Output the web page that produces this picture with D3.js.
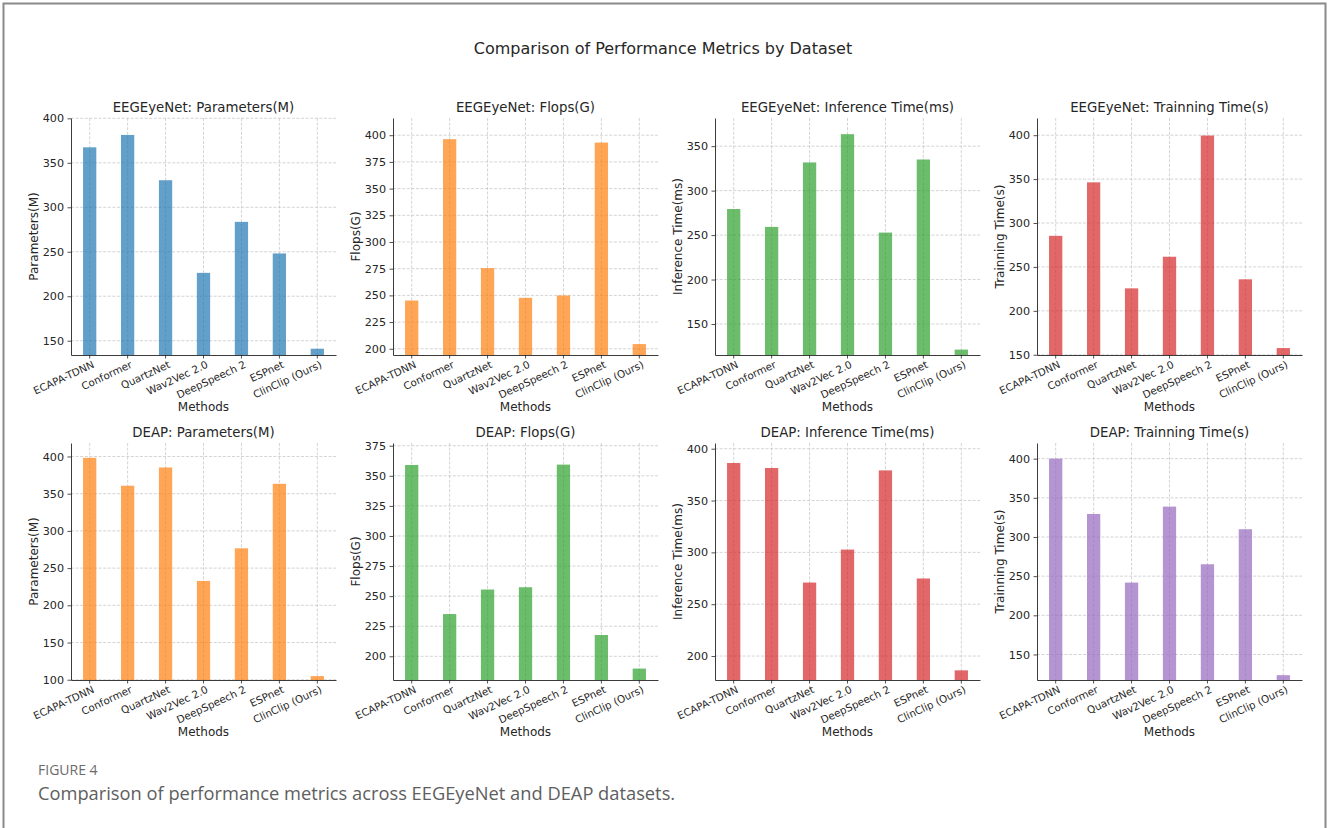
<!DOCTYPE html>
<html>
<head>
<meta charset="utf-8">
<script src="https://cdn.jsdelivr.net/npm/d3@7"></script>
<style>
  html, body { margin: 0; padding: 0; background: #fff; }
  svg { display: block; }
  .tick text { font-family: "DejaVu Sans", sans-serif; fill: #262626; }
  .tick line { stroke: #262626; stroke-width: 0.8; }
  .domain { stroke: #262626; stroke-width: 0.9; }
</style>
</head>
<body>
<svg id="chart" width="1328" height="828"></svg>
<script>
// Methods compared in every panel
const methods = ["ECAPA-TDNN", "Conformer", "QuartzNet", "Wav2Vec 2.0", "DeepSpeech 2", "ESPnet", "ClinClip (Ours)"];

// EEGEyeNet metrics
const eegParams    = [367.4, 381.3, 330.4, 226.3, 283.6, 248.1, 141.0];
const eegFlops     = [245.2, 396.3, 275.5, 247.7, 249.9, 393.1, 204.4];
const eegInference = [279.3, 259.2, 331.7, 363.5, 252.8, 335.0, 121.2];
const eegTraining  = [285.4, 346.3, 225.6, 261.6, 399.6, 235.9, 157.6];

// DEAP metrics
const deapParams    = [398.2, 360.7, 385.2, 232.8, 276.6, 363.3, 104.9];
const deapFlops     = [359.0, 235.1, 255.5, 257.4, 359.3, 217.7, 189.8];
const deapInference = [386.2, 381.4, 270.9, 302.7, 379.1, 274.8, 186.2];
const deapTraining  = [400.0, 329.4, 241.8, 338.8, 265.2, 309.9, 123.6];

// Y tick values per panel
const ticksParamsEEG    = [150, 200, 250, 300, 350, 400];
const ticksFlopsEEG     = [200, 225, 250, 275, 300, 325, 350, 375, 400];
const ticksInferenceEEG = [150, 200, 250, 300, 350];
const ticksTrainingEEG  = [150, 200, 250, 300, 350, 400];
const ticksParamsDEAP    = [100, 150, 200, 250, 300, 350, 400];
const ticksFlopsDEAP     = [200, 225, 250, 275, 300, 325, 350, 375];
const ticksInferenceDEAP = [200, 250, 300, 350, 400];
const ticksTrainingDEAP  = [150, 200, 250, 300, 350, 400];

// Panel titles and y-axis labels
const datasets = ["EEGEyeNet", "DEAP"];
const metricNames = ["Parameters(M)", "Flops(G)", "Inference Time(ms)", "Trainning Time(s)"];

const tab = {
  blue: "#1f77b4", orange: "#ff7f0e", green: "#2ca02c", red: "#d62728", purple: "#9467bd"
};

const panels = [
  { ds: 0, m: 0, values: eegParams,    ticks: ticksParamsEEG,    color: tab.blue },
  { ds: 0, m: 1, values: eegFlops,     ticks: ticksFlopsEEG,     color: tab.orange },
  { ds: 0, m: 2, values: eegInference, ticks: ticksInferenceEEG, color: tab.green },
  { ds: 0, m: 3, values: eegTraining,  ticks: ticksTrainingEEG,  color: tab.red },
  { ds: 1, m: 0, values: deapParams,    ticks: ticksParamsDEAP,    color: tab.orange },
  { ds: 1, m: 1, values: deapFlops,     ticks: ticksFlopsDEAP,     color: tab.green },
  { ds: 1, m: 2, values: deapInference, ticks: ticksInferenceDEAP, color: tab.red },
  { ds: 1, m: 3, values: deapTraining,  ticks: ticksTrainingDEAP,  color: tab.purple }
];

// Layout
const colLefts = [71, 393, 715, 1037];
const rowTops = [118, 443];
const axW = 265, axH = 237;
const FONT = '"DejaVu Sans", sans-serif';

const svg = d3.select("#chart");

// Outer frame (top, left, right edges)
svg.append("path")
  .attr("d", "M3.5,830 L3.5,3.5 L1325.5,3.5 L1325.5,830")
  .attr("fill", "none").attr("stroke", "#8a8a8a").attr("stroke-width", 2);

// Figure title
svg.append("text")
  .attr("x", 663).attr("y", 54)
  .attr("text-anchor", "middle")
  .attr("font-family", FONT).attr("font-size", 16).attr("fill", "#262626")
  .text("Comparison of Performance Metrics by Dataset");

panels.forEach(p => {
  const left = colLefts[p.m];
  const top = rowTops[p.ds];
  const bottom = top + axH;

  const x = d3.scaleBand()
    .domain(methods)
    .range([left, left + axW])
    .paddingInner(0.65)
    .paddingOuter(0.3175);

  const y = d3.scaleLinear()
    .domain([d3.min(p.values) * 0.95, d3.max(p.values) * 1.05])
    .range([bottom, top]);

  const g = svg.append("g");

  // Dashed grid
  const grid = g.append("g")
    .attr("stroke", "#b8b8b8").attr("stroke-width", 0.7)
    .attr("stroke-dasharray", "3,1.6").attr("opacity", 0.85);
  grid.selectAll("line.h").data(p.ticks).join("line")
    .attr("class", "h")
    .attr("x1", left).attr("x2", left + axW)
    .attr("y1", d => y(d)).attr("y2", d => y(d));
  grid.selectAll("line.v").data(methods).join("line")
    .attr("class", "v")
    .attr("x1", d => x(d) + x.bandwidth() / 2).attr("x2", d => x(d) + x.bandwidth() / 2)
    .attr("y1", top).attr("y2", bottom);

  // Bars
  g.selectAll("rect.bar").data(p.values).join("rect")
    .attr("class", "bar")
    .attr("x", (d, j) => x(methods[j]))
    .attr("width", x.bandwidth())
    .attr("y", d => y(d))
    .attr("height", d => bottom - y(d))
    .attr("fill", p.color)
    .attr("fill-opacity", 0.7);

  // Y axis
  const yAxis = g.append("g")
    .attr("transform", `translate(${left},0)`)
    .call(d3.axisLeft(y).tickValues(p.ticks).tickSize(3.5).tickSizeOuter(0).tickPadding(3.5).tickFormat(d3.format("d")));
  yAxis.selectAll(".tick text").attr("font-size", 11.2);
  yAxis.select(".domain").attr("fill", "none");

  // X axis
  const xAxis = g.append("g")
    .attr("transform", `translate(0,${bottom})`)
    .call(d3.axisBottom(x).tickSize(3.5).tickSizeOuter(0).tickPadding(0));
  xAxis.select(".domain").attr("fill", "none");
  xAxis.selectAll(".tick text")
    .attr("font-size", 10.3)
    .attr("text-anchor", "end")
    .attr("x", 0).attr("y", 0).attr("dy", "0.76em")
    .attr("transform", "translate(2,5) rotate(-25)");

  // Panel title
  g.append("text")
    .attr("x", left + axW / 2).attr("y", top - 6)
    .attr("text-anchor", "middle")
    .attr("font-family", FONT).attr("font-size", 13.3).attr("fill", "#262626")
    .text(`${datasets[p.ds]}: ${metricNames[p.m]}`);

  // Axis labels
  g.append("text")
    .attr("x", left + axW / 2).attr("y", bottom + 56)
    .attr("text-anchor", "middle")
    .attr("font-family", FONT).attr("font-size", 12).attr("fill", "#262626")
    .text("Methods");

  g.append("text")
    .attr("transform", `translate(${left - 33},${top + axH / 2}) rotate(-90)`)
    .attr("text-anchor", "middle")
    .attr("font-family", FONT).attr("font-size", 12).attr("fill", "#262626")
    .text(metricNames[p.m]);
});

// Caption
svg.append("text")
  .attr("x", 38).attr("y", 775)
  .attr("font-family", '"Open Sans", sans-serif').attr("font-size", 14)
  .attr("fill", "#6b6b6b")
  .text("FIGURE 4");
svg.append("text")
  .attr("x", 38).attr("y", 800)
  .attr("font-family", '"Open Sans", sans-serif').attr("font-size", 18.3)
  .attr("fill", "#5e5e5e")
  .text("Comparison of performance metrics across EEGEyeNet and DEAP datasets.");
</script>
</body>
</html>
